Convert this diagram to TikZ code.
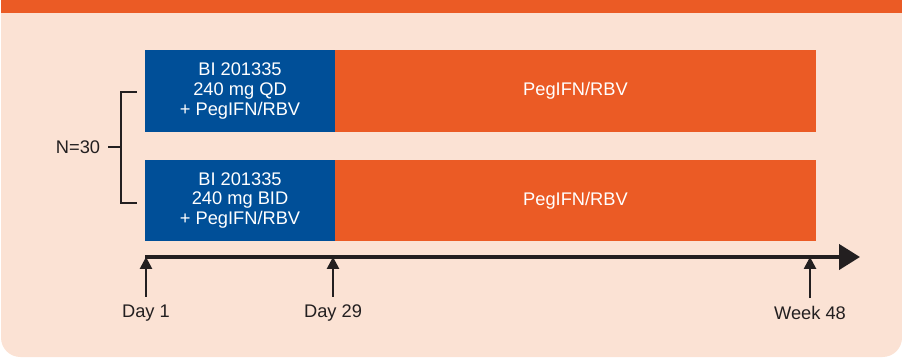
\documentclass[tikz,border=0pt]{standalone}
\usepackage{fontspec}
\setsansfont{Liberation Sans}
\usetikzlibrary{arrows.meta,positioning}
\definecolor{bandorange}{HTML}{EB5B25}
\definecolor{drugblue}{HTML}{004F98}
\definecolor{peach}{HTML}{FBE2D4}
\definecolor{inkblack}{HTML}{231F20}

\begin{document}
\begin{tikzpicture}[x=0.02cm, y=-0.02cm, >=Stealth,
  every node/.style={font=\sffamily\fontsize{10.4}{11.2}\selectfont, text=inkblack},
  drug/.style={fill=drugblue, text=white, align=center, inner sep=0pt,
               minimum width=3.8cm, minimum height=1.64cm},
  pegbox/.style={fill=bandorange, text=white, align=center, inner sep=0pt,
                 minimum width=9.62cm, minimum height=1.64cm},
  tick/.style={->, draw=inkblack, line width=0.9pt,
               -{Triangle[length=6.8pt, width=7pt]}}]

  % ---- Background panel ----
  \useasboundingbox (0,0) rectangle (902,358);
  \fill[peach, rounded corners=11pt] (1,0) rectangle (902,357);
  \fill[peach] (1,0) rectangle (902,40);
  \fill[bandorange] (1,0) rectangle (902,13);

  % ---- Arm 1: QD ----
  \node[drug]   (qd)   at (240,91)   {BI 201335\\240 mg QD\\+ PegIFN/RBV};
  \node[pegbox] (peg1) at (575.5,91) {PegIFN/RBV};

  % ---- Arm 2: BID ----
  \node[drug]   (bid)  at (240,200.5)   {BI 201335\\240 mg BID\\+ PegIFN/RBV};
  \node[pegbox] (peg2) at (575.5,200.5) {PegIFN/RBV};

  % ---- Randomisation bracket ----
  \node (n) at (78,147) {N=30};
  \coordinate (btop) at (121,92);
  \coordinate (bbot) at (121,203);
  \draw[inkblack, line width=1.3pt] (btop -| qd.west) ++(-8,0) -- (btop) -- (bbot) -- ++(16,0);
  \draw[inkblack, line width=1.3pt] (n.east) ++(2,0) -- (n.east -| btop);

  % ---- Time axis ----
  \coordinate (t0)   at (145,257);
  \coordinate (tend) at (860,257);
  \draw[inkblack, line width=2.3pt, -{Triangle[length=11.9pt, width=14.2pt]}] (t0) -- (tend);

  % ---- Time points ----
  \node (d1)  at (146,313) {Day 1};
  \node (d29) at (333,313) {Day 29};
  \node (w48) at (810,313) {Week 48};
  \draw[tick] (d1.north)  ++(0,-2) -- (d1.north  |- t0);
  \draw[tick] (d29.north) ++(0,-2) -- (d29.north |- t0);
  \draw[tick] (w48.north) ++(0,-2) -- (w48.north |- t0);
\end{tikzpicture}
\end{document}
